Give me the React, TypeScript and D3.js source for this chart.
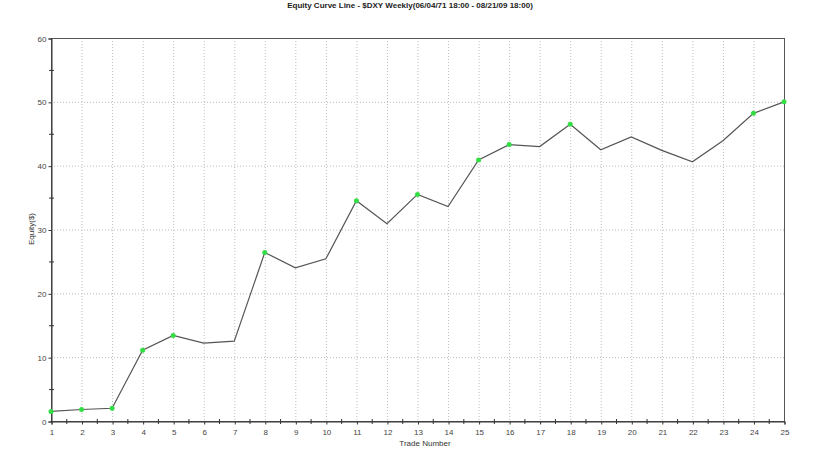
import { useEffect, useRef } from "react";
import * as d3 from "d3";

const trades = [1, 2, 3, 4, 5, 6, 7, 8, 9, 10, 11, 12, 13, 14, 15, 16, 17, 18, 19, 20, 21, 22, 23, 24, 25];
const equity = [1.5, 1.8, 2.0, 11.1, 13.4, 12.2, 12.5, 26.4, 24.0, 25.4, 34.5, 30.9, 35.5, 33.6, 40.9, 43.3, 43.0, 46.5, 42.5, 44.5, 42.4, 40.6, 43.9, 48.2, 50.0];
const yTicks = [0, 10, 20, 30, 40, 50, 60];
const yMinorTicks = [5, 15, 25, 35, 45, 55];

const title = "Equity Curve Line - $DXY Weekly(06/04/71 18:00 - 08/21/09 18:00)";

export default function App() {
    const ref = useRef<SVGSVGElement>(null);

    useEffect(() => {
        const svg = d3.select(ref.current);
        svg.selectAll("*").remove();

        const width = 820;
        const height = 459;
        const margin = { top: 38, right: 36, bottom: 38, left: 51 };

        const x = d3.scaleLinear().domain([1, 25]).range([margin.left, width - margin.right]);
        const y = d3.scaleLinear().domain([0, 60]).range([height - margin.bottom, margin.top]);

        svg.append("rect").attr("width", width).attr("height", height).attr("fill", "#fff");

        const font = "Arial, 'Liberation Sans', sans-serif";

        // title
        svg.append("text")
            .attr("x", 410)
            .attr("y", 8)
            .attr("text-anchor", "middle")
            .style("font-family", font)
            .style("font-size", "8px")
            .style("font-weight", "bold")
            .attr("fill", "#222")
            .text(title);

        // grid
        const grid = svg.append("g")
            .attr("stroke", "#bdbdbd")
            .attr("stroke-width", 1)
            .attr("stroke-dasharray", "1,2");

        trades.slice(1, -1).forEach(t => {
            grid.append("line")
                .attr("x1", x(t) + 0.5).attr("x2", x(t) + 0.5)
                .attr("y1", y(60)).attr("y2", y(0));
        });
        yTicks.slice(1, -1).forEach(v => {
            grid.append("line")
                .attr("x1", x(1)).attr("x2", x(25))
                .attr("y1", y(v) + 0.5).attr("y2", y(v) + 0.5);
        });

        // frame
        svg.append("rect")
            .attr("x", x(1) + 0.5)
            .attr("y", y(60) + 0.5)
            .attr("width", x(25) - x(1))
            .attr("height", y(0) - y(60))
            .attr("fill", "none")
            .attr("stroke", "#555")
            .attr("stroke-width", 1);

        // axes
        const yAxis = svg.append("g")
            .attr("transform", `translate(${x(1) + 0.5},0.5)`)
            .call(d3.axisLeft(y).tickValues(yTicks).tickSize(3).tickPadding(2).tickFormat(d3.format("d")));
        yAxis.select(".domain").attr("stroke", "#333");
        yAxis.selectAll(".tick line").attr("stroke", "#333");
        yAxis.selectAll("text")
            .style("font-family", font)
            .style("font-size", "8px")
            .attr("fill", "#444");

        svg.append("g")
            .selectAll("line")
            .data(yMinorTicks)
            .enter()
            .append("line")
            .attr("x1", x(1) - 2).attr("x2", x(1) + 3)
            .attr("y1", d => y(d) + 0.5).attr("y2", d => y(d) + 0.5)
            .attr("stroke", "#333");

        const xAxis = svg.append("g")
            .attr("transform", `translate(0.5,${y(0) + 0.5})`)
            .call(d3.axisBottom(x).tickValues(trades).tickSize(3).tickPadding(5).tickFormat(d3.format("d")));
        xAxis.select(".domain").attr("stroke", "#333");
        xAxis.selectAll(".tick line").attr("stroke", "#333");
        xAxis.selectAll("text")
            .style("font-family", font)
            .style("font-size", "8px")
            .attr("fill", "#444");

        svg.append("g")
            .selectAll("line")
            .data(trades.slice(0, -1).map(t => t + 0.5))
            .enter()
            .append("line")
            .attr("x1", d => x(d) + 0.5).attr("x2", d => x(d) + 0.5)
            .attr("y1", y(0) - 2).attr("y2", y(0) + 3)
            .attr("stroke", "#333");

        // axis titles
        svg.append("text")
            .attr("x", 425)
            .attr("y", 446)
            .attr("text-anchor", "middle")
            .style("font-family", font)
            .style("font-size", "8px")
            .attr("fill", "#333")
            .text("Trade Number");

        svg.append("text")
            .attr("transform", `translate(34,229) rotate(-90)`)
            .attr("text-anchor", "middle")
            .style("font-family", font)
            .style("font-size", "8px")
            .attr("fill", "#333")
            .text("Equity($)");

        // equity curve
        const line = d3.line<number>()
            .x((_, i) => x(trades[i]))
            .y(d => y(d));

        svg.append("path")
            .datum(equity)
            .attr("d", line)
            .attr("fill", "none")
            .attr("stroke", "#555")
            .attr("stroke-width", 1.2);

        // green dots on new equity highs
        let peak = -Infinity;
        const highs = equity.map((v, i) => {
            const isHigh = v > peak;
            if (isHigh) peak = v;
            return { t: trades[i], v, isHigh };
        }).filter(d => d.isHigh);

        svg.append("g")
            .selectAll("circle")
            .data(highs)
            .enter()
            .append("circle")
            .attr("cx", d => x(d.t))
            .attr("cy", d => y(d.v))
            .attr("r", 2.5)
            .attr("fill", "#33dd44");
    }, []);

    return (
        <svg ref={ref} width={820} height={459} style={{ display: "block", position: "absolute", left: 0, top: 0 }} />
    );
}
